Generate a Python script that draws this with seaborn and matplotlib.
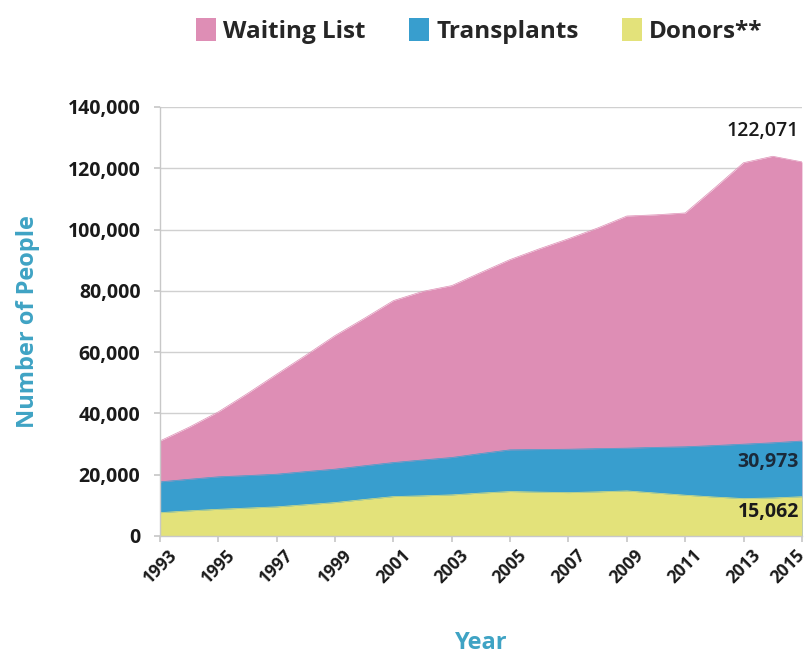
import matplotlib
matplotlib.use("Agg")
import matplotlib.pyplot as plt
import matplotlib.transforms as mtransforms
import seaborn as sns
import pandas as pd
from matplotlib.patches import Patch
from matplotlib.ticker import FuncFormatter

years = list(range(1993, 2016))
waiting_list = [31000, 35500, 40500, 46500, 52800, 59000, 65400, 71000, 76800, 79800,
                81700, 86000, 90200, 93700, 97000, 100500, 104400, 104800, 105400, 113500,
                121800, 123900, 122071]
transplants = [17650, 18500, 19300, 19700, 20150, 21000, 21800, 22900, 23950, 24800,
               25600, 26900, 28100, 28200, 28300, 28500, 28650, 28900, 29100, 29500,
               29950, 30400, 30973]
donors = [7600, 8200, 8700, 9100, 9500, 10200, 10900, 11900, 12850, 13100,
          13400, 14000, 14500, 14300, 14150, 14400, 14700, 14000, 13300, 12700,
          12200, 12400, 12800]
series_names = ["Waiting List", "Transplants", "Donors**"]
series_colors = ["#DE8EB5", "#389ECE", "#E3E27A"]
end_labels = ["122,071", "30,973", "15,062"]
x_ticks = list(range(1993, 2016, 2))
y_ticks = list(range(0, 140001, 20000))

df = pd.DataFrame({"Year": years, "Waiting List": waiting_list,
                   "Transplants": transplants, "Donors**": donors})

sns.set_theme(style="white")
plt.rcParams["font.family"] = ["Open Sans", "DejaVu Sans"]

fig = plt.figure(figsize=(8.1, 6.56), dpi=100)
ax = fig.add_axes([0.1975, 0.183, 0.7925, 0.654])

for name, color in zip(series_names, series_colors):
    sns.lineplot(data=df, x="Year", y=name, ax=ax, color=color, linewidth=0.5)
    ax.fill_between(df["Year"], df[name], 0, color=color, linewidth=0)

ax.set_xlim(1993, 2015)
ax.set_ylim(0, 140000)
ax.set_xticks(x_ticks)
ax.set_yticks(y_ticks)
ax.yaxis.set_major_formatter(FuncFormatter(lambda v, p: f"{int(v):,}"))
ax.grid(axis="y", color="#D0D0D0", linewidth=1)
ax.set_axisbelow(True)
for s in ["top", "right"]:
    ax.spines[s].set_visible(False)
for s in ["left", "bottom"]:
    ax.spines[s].set_color("#C8C8C8")
    ax.spines[s].set_linewidth(1)
ax.tick_params(axis="both", which="both", length=4, color="#C8C8C8", direction="out",
               bottom=True, left=True)
ax.tick_params(axis="y", labelsize=14, pad=10, labelcolor="#1a1a1a")
ax.tick_params(axis="x", labelsize=12.5, pad=3, labelcolor="#1a1a1a")
for lab in ax.get_yticklabels():
    lab.set_fontweight("bold")
xlabs = ax.get_xticklabels()
for lab in xlabs:
    lab.set_rotation(45)
    lab.set_ha("center")
    lab.set_fontweight("bold")
xlabs[-1].set_transform(xlabs[-1].get_transform() +
                        mtransforms.ScaledTranslation(-14 / 100, 0, fig.dpi_scale_trans))

ax.set_xlabel("Year", fontsize=17, fontweight="bold", color="#3FA3C4", labelpad=32)
ax.set_ylabel("Number of People", fontsize=17, fontweight="bold", color="#3FA3C4", labelpad=20)

ax.text(2014.9, 132000, end_labels[0], ha="right", va="center", fontsize=14,
        fontweight="semibold", color="#1a1a1a")
ax.text(2014.9, 24200, end_labels[1], ha="right", va="center", fontsize=14,
        fontweight="bold", color="#1a2a3a")
ax.text(2014.9, 7800, end_labels[2], ha="right", va="center", fontsize=14,
        fontweight="bold", color="#1a1a1a")

handles = [Patch(facecolor=c, edgecolor="none") for c in series_colors]
leg = fig.legend(handles, series_names, loc="center", bbox_to_anchor=(0.592, 0.953),
                 ncol=3, frameon=False, fontsize=17.5, handlelength=0.8, handleheight=1.1,
                 handletextpad=0.3, columnspacing=1.8)
for t in leg.get_texts():
    t.set_fontweight("bold")

fig.savefig("out.png", dpi=100)
